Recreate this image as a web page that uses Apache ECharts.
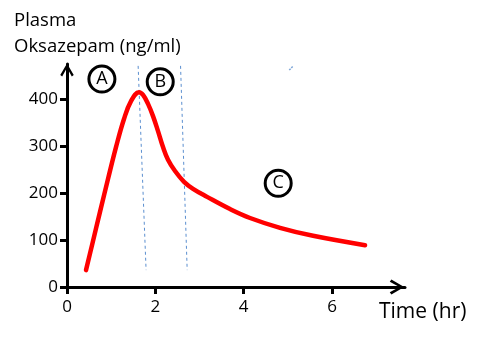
<!DOCTYPE html>
<html>
<head>
<meta charset="utf-8">
<script src="https://cdn.jsdelivr.net/npm/echarts@6/dist/echarts.min.js"></script>
<style>html,body{margin:0;padding:0;background:#fff;}#c{width:483px;height:343px;}</style>
</head>
<body>
<div id="c"></div>
<script>
// Plasma oxazepam concentration vs time
const timeHr = [0.43, 0.566, 0.747, 0.928, 1.109, 1.29, 1.449, 1.63, 1.721, 1.834, 1.947, 2.06, 2.173, 2.286, 2.445, 2.649, 2.853, 3.17, 3.69, 4.143, 4.822, 5.569, 6.746];
const concNgMl = [36, 89, 160, 230, 298, 358, 396, 415, 409, 390, 364, 332, 298, 271, 247, 224, 209, 192, 166, 147, 126, 109, 89];
// dashed phase boundaries [time, conc] at top and bottom
const boundary1 = [[1.61, 471], [1.79, 36]];
const boundary2 = [[2.57, 471], [2.72, 36]];
const strayMark = [[5.03, 462], [5.12, 471]];
const phaseLabels = ['A', 'B', 'C'];
const phasePos = [[0.79, 443], [2.11, 437], [4.78, 221]];
const xTicks = [0, 2, 4, 6];
const yTicks = [0, 100, 200, 300, 400];

const FONT = 'Open Sans';
const chevron = 'path://M0,12 L7,0 L14,12 L12,13.5 L7,4.5 L2,13.5 Z';
const dashStyle = {color: '#5b8fd0', width: 1, type: [3, 3]};

const chart = echarts.init(document.getElementById('c'), null, {renderer: 'canvas'});
chart.setOption({
  animation: false,
  backgroundColor: '#fff',
  title: [
    {text: 'Plasma\nOksazepam (ng/ml)', left: 9, top: 3,
     textStyle: {fontFamily: FONT, fontSize: 18.5, fontWeight: 'normal', color: '#000', lineHeight: 26}},
    {text: 'Time (hr)', left: 374, top: 297,
     textStyle: {fontFamily: FONT, fontSize: 21, fontWeight: 'normal', color: '#000'}}
  ],
  grid: {left: 67, right: 78, top: 64, bottom: 56, containLabel: false, outerBoundsMode: 'none'},
  xAxis: {
    type: 'value', min: 0, max: 7.65,
    splitLine: {show: false},
    axisLine: {lineStyle: {color: '#000', width: 3}, symbol: ['none', chevron], symbolSize: [15, 17], symbolOffset: [0, -8]},
    axisTick: {show: true, length: 7, lineStyle: {color: '#000', width: 3}, customValues: xTicks},
    axisLabel: {customValues: xTicks, margin: 12, fontFamily: FONT, fontSize: 17, color: '#000'}
  },
  yAxis: {
    type: 'value', min: 0, max: 475,
    splitLine: {show: false},
    axisLine: {lineStyle: {color: '#000', width: 3}, symbol: ['none', chevron], symbolSize: [19, 13], symbolOffset: [0, -6]},
    axisTick: {show: true, length: 7, lineStyle: {color: '#000', width: 3}, customValues: yTicks},
    axisLabel: {customValues: yTicks, margin: 9, fontFamily: FONT, fontSize: 17, color: '#000'}
  },
  series: [
    {type: 'line', data: timeHr.map((t, i) => [t, concNgMl[i]]), smooth: 0.4, showSymbol: false,
     lineStyle: {color: '#ff0000', width: 4.5, cap: 'round', join: 'round'}, z: 3},
    {type: 'line', data: boundary1, showSymbol: false, clip: false, lineStyle: dashStyle, z: 2},
    {type: 'line', data: boundary2, showSymbol: false, clip: false, lineStyle: dashStyle, z: 2},
    {type: 'line', data: strayMark, showSymbol: false, clip: false, lineStyle: {color: '#7ea6d8', width: 1.5, type: [2, 1]}, z: 2},
    {type: 'scatter', data: phasePos.map((p, i) => ({value: p, name: phaseLabels[i]})), clip: false,
     symbol: 'circle', symbolSize: 26,
     itemStyle: {color: 'rgba(255,255,255,0)', borderColor: '#000', borderWidth: 3, opacity: 1},
     label: {show: true, position: 'inside', formatter: '{b}', fontFamily: FONT, fontSize: 18, color: '#000'}, z: 4}
  ]
});
</script>
</body>
</html>
